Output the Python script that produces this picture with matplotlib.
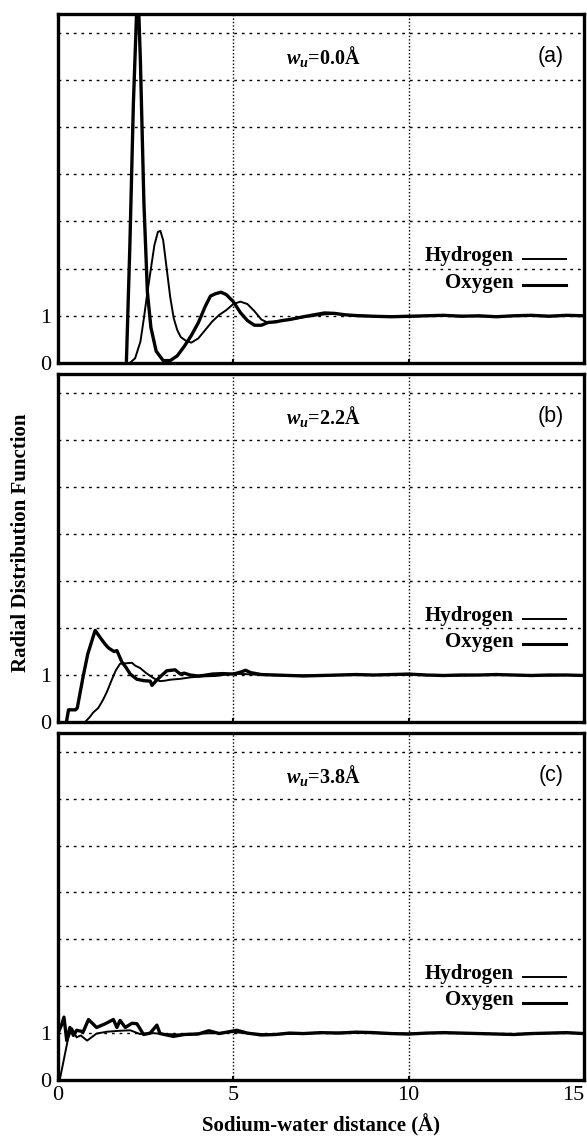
import matplotlib
matplotlib.use('Agg')
import matplotlib.pyplot as plt

plt.rcParams['font.family'] = ['Liberation Serif', 'DejaVu Serif']
plt.rcParams['mathtext.fontset'] = 'custom'
plt.rcParams['mathtext.it'] = 'Liberation Serif:bold:italic'
plt.rcParams['mathtext.rm'] = 'Liberation Serif:bold'

# panel (a) w_u = 0.0
a_ox_x = [1.95, 2.05, 2.15, 2.25, 2.28, 2.35, 2.45, 2.55, 2.65, 2.8, 3.0, 3.2, 3.4, 3.6, 3.8,
          4.0, 4.2, 4.35, 4.5, 4.65, 4.8, 5.0, 5.2, 5.4, 5.6, 5.8, 6.0, 6.2, 6.4, 6.6, 6.8,
          7.0, 7.3, 7.6, 7.9, 8.2, 8.6, 9.0, 9.5, 10.0, 10.5, 11.0, 11.5, 12.0, 12.5, 13.0,
          13.5, 14.0, 14.5, 15.0]
a_ox_y = [0.0, 2.5, 5.5, 7.6, 8.0, 6.4, 3.4, 1.5, 0.75, 0.25, 0.05, 0.05, 0.15, 0.35, 0.58,
          0.85, 1.2, 1.42, 1.47, 1.5, 1.45, 1.3, 1.07, 0.9, 0.8, 0.8, 0.86, 0.87, 0.9, 0.92, 0.95,
          0.98, 1.02, 1.06, 1.05, 1.02, 1.0, 0.99, 0.98, 0.99, 1.0, 1.01, 0.99, 1.0, 0.98, 1.0,
          1.01, 0.99, 1.01, 1.0]
a_hy_x = [2.05, 2.2, 2.35, 2.45, 2.55, 2.65, 2.75, 2.85, 2.92, 3.0, 3.1, 3.2, 3.3, 3.4, 3.5,
          3.65, 3.8, 4.0, 4.2, 4.4, 4.6, 4.8, 5.0, 5.2, 5.4, 5.6, 5.8, 6.0, 6.2, 6.4, 6.7,
          7.0, 7.3, 7.6, 7.9, 8.2, 8.6, 9.0, 9.5, 10.0, 10.5, 11.0, 11.5, 12.0, 12.5, 13.0,
          13.5, 14.0, 14.5, 15.0]
a_hy_y = [0.0, 0.1, 0.45, 0.95, 1.5, 2.0, 2.5, 2.78, 2.8, 2.6, 2.0, 1.4, 0.95, 0.7, 0.55,
          0.47, 0.43, 0.52, 0.7, 0.88, 1.02, 1.12, 1.25, 1.3, 1.25, 1.1, 0.92, 0.85, 0.88, 0.9, 0.93,
          0.97, 1.0, 1.03, 1.04, 1.02, 1.01, 0.99, 0.99, 0.98, 1.0, 1.0, 1.0, 0.99, 0.99, 1.0,
          1.0, 1.0, 1.0, 1.0]

# panel (b) w_u = 2.2
b_ox_x = [0.24, 0.3, 0.5, 0.55, 0.72, 0.85, 1.06, 1.2, 1.35, 1.45, 1.6, 1.68, 1.82, 1.95,
          2.06, 2.25, 2.45, 2.63, 2.68, 2.8, 2.91, 3.1, 3.34, 3.49, 3.6, 3.77, 4.0, 4.14, 4.4,
          4.7, 5.0, 5.2, 5.35, 5.5, 5.8, 6.2, 6.6, 7.0, 7.5, 8.0, 8.5, 9.0, 9.5, 10.0, 10.5,
          11.0, 11.5, 12.0, 12.5, 13.0, 13.5, 14.0, 14.5, 15.0]
b_ox_y = [0.0, 0.26, 0.26, 0.3, 0.98, 1.45, 1.95, 1.8, 1.65, 1.57, 1.5, 1.52, 1.28, 1.15,
          1.02, 0.91, 0.88, 0.87, 0.78, 0.88, 0.96, 1.09, 1.11, 1.02, 1.04, 1.0, 0.98, 0.99, 1.02,
          1.03, 1.02, 1.06, 1.1, 1.05, 1.01, 1.0, 0.99, 0.98, 0.99, 1.0, 1.01, 1.0, 1.01, 1.02, 1.0,
          0.99, 1.0, 1.0, 1.01, 1.0, 0.99, 1.0, 1.0, 0.99]
b_hy_x = [0.77, 0.9, 1.0, 1.15, 1.29, 1.4, 1.54, 1.65, 1.77, 1.95, 2.11, 2.2, 2.34, 2.5,
          2.63, 2.8, 2.91, 3.05, 3.2, 3.5, 3.77, 4.1, 4.5, 4.8, 5.0, 5.3, 5.6, 6.0, 6.5, 7.0,
          7.5, 8.0, 8.5, 9.0, 9.5, 10.0, 10.5, 11.0, 11.5, 12.0, 12.5, 13.0, 13.5, 14.0, 14.5, 15.0]
b_hy_y = [0.0, 0.1, 0.2, 0.3, 0.48, 0.65, 0.91, 1.1, 1.24, 1.25, 1.26, 1.2, 1.15, 1.05,
          0.98, 0.9, 0.87, 0.88, 0.9, 0.92, 0.95, 0.97, 0.98, 1.01, 1.03, 1.02, 1.01, 1.0, 0.99, 0.99,
          1.0, 1.0, 1.01, 1.0, 1.0, 1.01, 1.0, 1.0, 0.99, 1.0, 1.0, 1.0, 1.0, 0.99, 1.0, 1.0]

# panel (c) w_u = 3.8
c_ox_x = [0.0, 0.1, 0.17, 0.25, 0.34, 0.44, 0.53, 0.72, 0.87, 1.1, 1.35, 1.58, 1.68, 1.77,
          1.92, 2.11, 2.25, 2.44, 2.63, 2.82, 2.91, 3.29, 3.6, 4.0, 4.3, 4.6, 5.1, 5.4, 5.8,
          6.2, 6.6, 7.0, 7.5, 8.0, 8.5, 9.0, 9.5, 10.0, 10.5, 11.0, 11.5, 12.0, 12.5, 13.0,
          13.5, 14.0, 14.5, 15.0]
c_ox_y = [1.0, 1.17, 1.34, 0.84, 1.12, 0.95, 1.06, 1.03, 1.29, 1.12, 1.2, 1.29, 1.12, 1.27,
          1.12, 1.21, 1.2, 0.97, 1.0, 1.17, 0.99, 0.93, 0.97, 0.98, 1.05, 0.99, 1.06, 1.0, 0.96,
          0.97, 1.0, 0.99, 1.01, 1.0, 1.02, 1.01, 0.99, 0.98, 1.0, 1.01, 1.0, 0.99, 0.98, 0.97,
          0.99, 1.0, 1.01, 0.99]
c_hy_x = [0.05, 0.2, 0.29, 0.4, 0.53, 0.65, 0.83, 1.1, 1.4, 1.77, 2.06, 2.34, 2.7, 3.0,
          3.5, 4.0, 4.5, 5.0, 5.5, 6.0, 6.5, 7.0, 7.5, 8.0, 8.5, 9.0, 9.5, 10.0, 10.5, 11.0,
          11.5, 12.0, 12.5, 13.0, 13.5, 14.0, 14.5, 15.0]
c_hy_y = [0.0, 0.56, 0.89, 1.1, 0.91, 0.95, 0.84, 0.99, 1.03, 1.05, 1.06, 0.98, 1.0, 0.98,
          0.97, 0.99, 1.0, 1.02, 0.99, 0.97, 0.98, 1.0, 1.0, 1.01, 1.01, 1.0, 0.99, 0.99, 1.0, 1.0,
          1.0, 0.99, 0.98, 0.98, 0.99, 1.0, 1.0, 1.0]

panel_tags = ['(a)', '(b)', '(c)']
wu_values = ['0.0', '2.2', '3.8']
x_ticks = [0, 5, 10, 15]
y_grid = [0, 1, 2, 3, 4, 5, 6, 7]

fig = plt.figure(figsize=(5.87, 11.36), dpi=100)
boxes = [[0.0988, 0.6805, 0.896, 0.3072],
         [0.0988, 0.3644, 0.896, 0.3063],
         [0.0988, 0.0493, 0.896, 0.3055]]
series = [(a_hy_x, a_hy_y, a_ox_x, a_ox_y),
          (b_hy_x, b_hy_y, b_ox_x, b_ox_y),
          (c_hy_x, c_hy_y, c_ox_x, c_ox_y)]

for i, box in enumerate(boxes):
    ax = fig.add_axes(box)
    hx, hy, ox, oy = series[i]
    ax.plot(hx, hy, color='black', lw=1.4)
    ax.plot(ox, oy, color='black', lw=2.4)
    ax.set_xlim(0, 15)
    ax.set_ylim(0, 7.4)
    ax.set_yticks(y_grid)
    ax.set_yticklabels(['0', '1', '', '', '', '', '', ''], fontsize=16)
    ax.set_xticks(x_ticks)
    if i == 2:
        labels = ax.set_xticklabels([str(t) for t in x_ticks], fontsize=16)
        labels[-1].set_horizontalalignment('right')
    else:
        ax.set_xticklabels([])
    ax.tick_params(axis='y', length=0, pad=5)
    ax.tick_params(axis='x', direction='in', length=3, width=1.5, pad=4)
    ax.grid(axis='y', color='black', linestyle=(0, (2, 3.5)), lw=1.0)
    ax.grid(axis='x', color='black', linestyle=(0, (1, 1.5)), lw=1.0)
    for s in ax.spines.values():
        s.set_linewidth(2.4)
    ax.text(6.5, 6.5, r'$w_u$=' + wu_values[i] + 'Å',
            fontsize=14.5, fontweight='bold', va='center', ha='left')
    ax.text(14.05, 6.5, panel_tags[i], fontsize=15.5, family='Liberation Sans',
            va='center', ha='center')
    ax.text(13.0, 2.26, 'Hydrogen', fontsize=15, fontweight='bold', ha='right', va='center')
    ax.text(13.0, 1.70, 'Oxygen', fontsize=15, fontweight='bold', ha='right', va='center')
    ax.plot([13.25, 14.5], [2.2, 2.2], color='black', lw=1.4, clip_on=False)
    ax.plot([13.25, 14.5], [1.65, 1.65], color='black', lw=2.2, clip_on=False)

fig.text(0.036, 0.522, 'Radial Distribution Function', rotation=90, fontsize=15,
         fontweight='bold', ha='center', va='center')
fig.text(0.547, 0.0095, 'Sodium-water distance (Å)', fontsize=15, fontweight='bold',
         ha='center', va='center')

fig.savefig('out.png', dpi=100)
